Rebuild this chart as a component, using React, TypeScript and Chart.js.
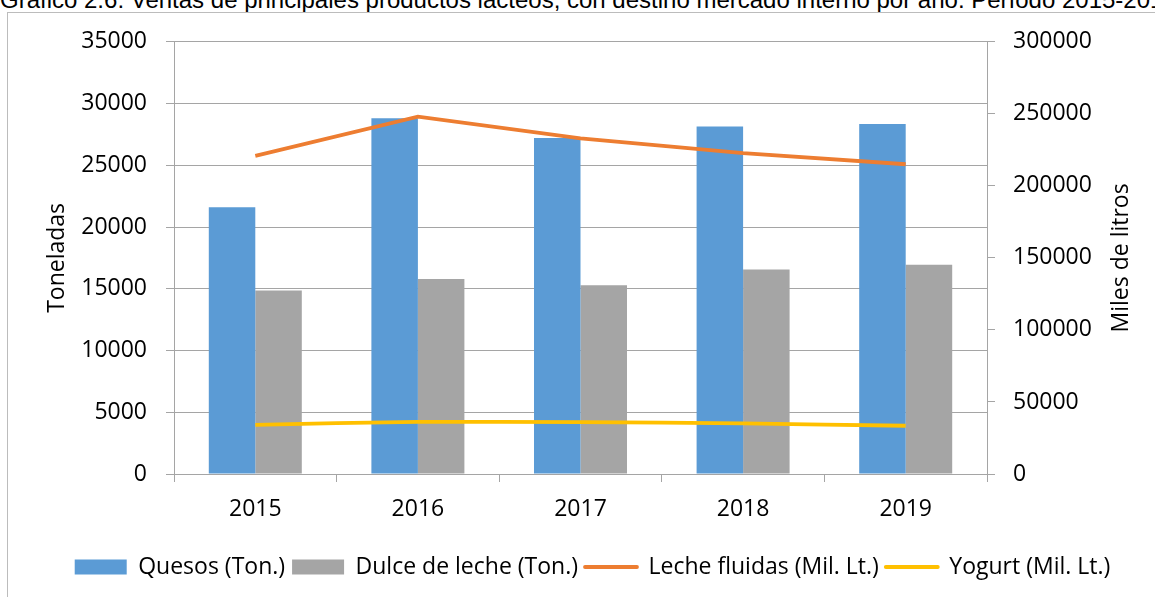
import React, { useEffect, useRef } from "react";
import { Chart, registerables } from "chart.js";

Chart.register(...registerables);

const categories = ["2015", "2016", "2017", "2018", "2019"];
const quesos = [21600, 28800, 27200, 28150, 28350];
const dulceDeLeche = [14850, 15800, 15280, 16570, 16950];
const lecheFluidas = [220800, 248000, 233000, 222700, 215000];
const yogurt = [34150, 36200, 36000, 35100, 33500];

const seriesNames = [
  "Quesos (Ton.)",
  "Dulce de leche (Ton.)",
  "Leche fluidas (Mil. Lt.)",
  "Yogurt (Mil. Lt.)",
];
const seriesColors = ["#5B9BD5", "#A5A5A5", "#ED7D31", "#FFC000"];

const leftAxisTitle = "Toneladas";
const rightAxisTitle = "Miles de litros";
const chartTitle =
  "Gráfico 2.6: Ventas de principales productos lácteos, con destino mercado interno por año. Período 2015-2019";

const FONT = "'Open Sans', 'DejaVu Sans', sans-serif";
const GRID = "#a5a5a5";

export default function App() {
  const ref = useRef<HTMLCanvasElement | null>(null);

  useEffect(() => {
    if (!ref.current) return;
    Chart.defaults.font.family = FONT;
    Chart.defaults.font.size = 23;
    Chart.defaults.color = "#000";

    const rightTitlePlugin = {
      id: "rightTitle",
      afterDraw(chart: any) {
        const s = chart.scales.y1;
        const ctx = chart.ctx;
        ctx.save();
        ctx.translate(1112.7, (s.top + s.bottom) / 2);
        ctx.rotate(-Math.PI / 2);
        ctx.textAlign = "center";
        ctx.textBaseline = "middle";
        ctx.fillStyle = "#000";
        ctx.font = "23px " + FONT;
        ctx.fillText(rightAxisTitle, 0, 0);
        ctx.restore();
      },
    };

    const chart = new Chart(ref.current, {
      type: "bar",
      data: {
        labels: categories,
        datasets: [
          {
            type: "bar",
            label: seriesNames[0],
            data: quesos,
            backgroundColor: seriesColors[0],
            yAxisID: "y",
            order: 2,
            categoryPercentage: 0.572,
            barPercentage: 1,
          },
          {
            type: "bar",
            label: seriesNames[1],
            data: dulceDeLeche,
            backgroundColor: seriesColors[1],
            yAxisID: "y",
            order: 2,
            categoryPercentage: 0.572,
            barPercentage: 1,
          },
          {
            type: "line",
            label: seriesNames[2],
            data: lecheFluidas,
            borderColor: seriesColors[2],
            backgroundColor: seriesColors[2],
            borderWidth: 3.8,
            pointRadius: 0,
            tension: 0,
            yAxisID: "y1",
            order: 1,
          },
          {
            type: "line",
            label: seriesNames[3],
            data: yogurt,
            borderColor: seriesColors[3],
            backgroundColor: seriesColors[3],
            borderWidth: 3.8,
            pointRadius: 0,
            tension: 0.2,
            yAxisID: "y1",
            order: 1,
          },
        ],
      },
      options: {
        responsive: false,
        animation: false,
        layout: { padding: { left: 21, right: 0, top: 24, bottom: 8.5 } },
        plugins: {
          tooltip: { enabled: false },
          legend: {
            position: "bottom",
            labels: {
              usePointStyle: true,
              pointStyleWidth: 52,
              boxHeight: 15,
              padding: 7,
              color: "#000",
              font: { size: 23, family: FONT },
              sort: (a: any, b: any) => a.datasetIndex - b.datasetIndex,
              generateLabels: (c: any) =>
                (Chart.defaults.plugins.legend.labels as any)
                  .generateLabels(c)
                  .map((l: any) => {
                    const i = l.datasetIndex;
                    const isBar = i < 2;
                    return {
                      ...l,
                      pointStyle: isBar ? "rect" : "line",
                      fillStyle: seriesColors[i],
                      strokeStyle: seriesColors[i],
                      lineWidth: isBar ? 0 : 3.8,
                      lineCap: "round",
                    };
                  }),
            },
          },
        },
        scales: {
          x: {
            type: "category",
            offset: true,
            grid: {
              offset: true,
              drawOnChartArea: false,
              drawTicks: true,
              tickLength: 8,
              color: GRID,
            },
            border: { display: true, color: GRID, width: 1 },
            ticks: { padding: 14, color: "#000", font: { size: 23 } },
            afterFit: (s: any) => {
              s.height = 74.5;
            },
          },
          y: {
            type: "linear",
            position: "left",
            min: 0,
            max: 35000,
            ticks: {
              stepSize: 5000,
              padding: 19,
              color: "#000",
              font: { size: 23 },
              callback: (v: any) => String(v),
            },
            grid: { color: GRID, tickLength: 8, lineWidth: 1 },
            border: { display: true, color: GRID, width: 1 },
            title: {
              display: true,
              text: leftAxisTitle,
              color: "#000",
              font: { size: 23 },
              padding: { top: 14, bottom: 0 },
            },
            afterFit: (s: any) => {
              s.width = 144;
            },
          },
          y1: {
            type: "linear",
            position: "right",
            min: 0,
            max: 300000,
            ticks: {
              stepSize: 50000,
              padding: 18,
              color: "#000",
              font: { size: 23 },
              callback: (v: any) => String(v),
            },
            grid: { drawOnChartArea: false, color: GRID, tickLength: 8 },
            border: { display: true, color: GRID, width: 1 },
            afterFit: (s: any) => {
              s.width = 168;
            },
          },
        },
      } as any,
      plugins: [rightTitlePlugin],
    });
    return () => chart.destroy();
  }, []);

  return (
    <div
      style={{
        position: "absolute",
        left: 0,
        top: 0,
        width: 1155,
        height: 597,
        overflow: "hidden",
        background: "#fff",
      }}
    >
      <div
        style={{
          position: "absolute",
          left: 0,
          top: -11.8,
          whiteSpace: "nowrap",
          fontFamily: "'Liberation Sans', Arial, sans-serif",
          fontSize: 24,
          lineHeight: 1,
          color: "#000",
        }}
      >
        {chartTitle}
      </div>
      <div
        style={{
          position: "absolute",
          left: 7,
          top: 12,
          width: 1170,
          height: 620,
          border: "1px solid #bcbcbc",
          boxSizing: "border-box",
        }}
      />
      <canvas
        ref={ref}
        width={1146}
        height={588}
        style={{ position: "absolute", left: 9, top: 9, display: "block" }}
      />
    </div>
  );
}
